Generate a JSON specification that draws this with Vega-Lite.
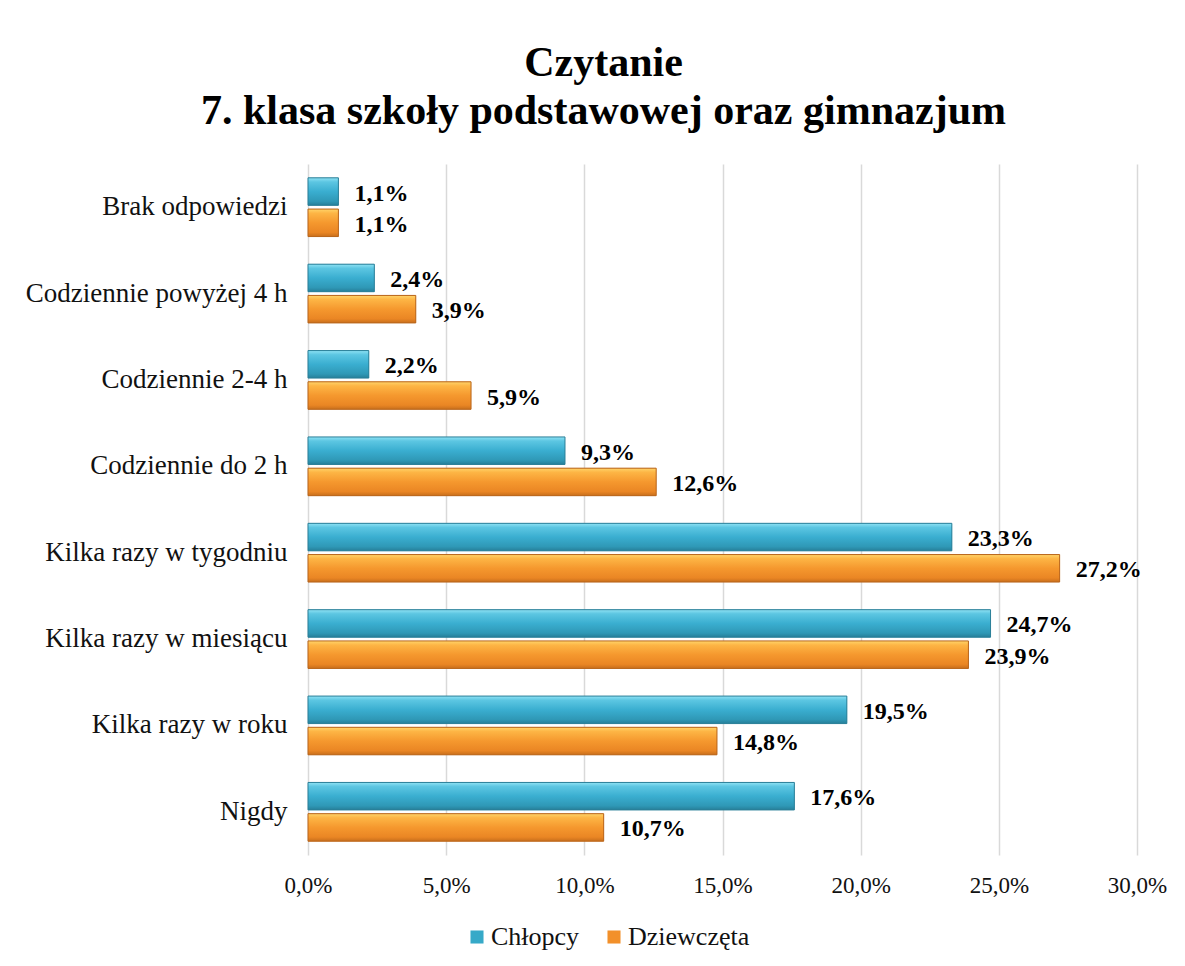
{
  "$schema": "https://vega.github.io/schema/vega-lite/v6.json",
  "autosize": {"type": "none"},
  "width": 829,
  "height": 691,
  "padding": {"left": 308, "top": 164, "right": 48, "bottom": 111},
  "background": "white",
  "title": {
    "text": ["Czytanie", "7. klasa szkoły podstawowej oraz gimnazjum"],
    "font": "Liberation Serif",
    "fontSize": 42,
    "fontWeight": "bold",
    "color": "#000000",
    "anchor": "middle",
    "frame": "group",
    "dx": -119,
    "lineHeight": 48,
    "offset": 31
  },
  "data": {
    "values": [
      {"kategoria": "Brak odpowiedzi", "grupa": "Chłopcy", "wartosc": 1.1},
      {"kategoria": "Brak odpowiedzi", "grupa": "Dziewczęta", "wartosc": 1.1},
      {"kategoria": "Codziennie powyżej 4 h", "grupa": "Chłopcy", "wartosc": 2.4},
      {"kategoria": "Codziennie powyżej 4 h", "grupa": "Dziewczęta", "wartosc": 3.9},
      {"kategoria": "Codziennie 2-4 h", "grupa": "Chłopcy", "wartosc": 2.2},
      {"kategoria": "Codziennie 2-4 h", "grupa": "Dziewczęta", "wartosc": 5.9},
      {"kategoria": "Codziennie do 2 h", "grupa": "Chłopcy", "wartosc": 9.3},
      {"kategoria": "Codziennie do 2 h", "grupa": "Dziewczęta", "wartosc": 12.6},
      {"kategoria": "Kilka razy w tygodniu", "grupa": "Chłopcy", "wartosc": 23.3},
      {"kategoria": "Kilka razy w tygodniu", "grupa": "Dziewczęta", "wartosc": 27.2},
      {"kategoria": "Kilka razy w miesiącu", "grupa": "Chłopcy", "wartosc": 24.7},
      {"kategoria": "Kilka razy w miesiącu", "grupa": "Dziewczęta", "wartosc": 23.9},
      {"kategoria": "Kilka razy w roku", "grupa": "Chłopcy", "wartosc": 19.5},
      {"kategoria": "Kilka razy w roku", "grupa": "Dziewczęta", "wartosc": 14.8},
      {"kategoria": "Nigdy", "grupa": "Chłopcy", "wartosc": 17.6},
      {"kategoria": "Nigdy", "grupa": "Dziewczęta", "wartosc": 10.7}
    ]
  },
  "encoding": {
    "y": {
      "field": "kategoria",
      "type": "nominal",
      "sort": null,
      "title": null,
      "scale": {"paddingInner": 0.32, "paddingOuter": 0.16},
      "axis": {
        "domain": false,
        "ticks": false,
        "labelFont": "Liberation Serif",
        "labelFontSize": 27,
        "labelColor": "#111111",
        "labelPadding": 21,
        "labelLimit": 400
      }
    },
    "yOffset": {
      "field": "grupa",
      "type": "nominal",
      "sort": ["Chłopcy", "Dziewczęta"],
      "scale": {"paddingInner": 0.12}
    },
    "x": {
      "field": "wartosc",
      "type": "quantitative",
      "title": null,
      "scale": {"domain": [0, 30], "nice": false},
      "axis": {
        "values": [0, 5, 10, 15, 20, 25, 30],
        "labelExpr": "replace(format(datum.value, '.1f'), '.', ',') + '%'",
        "labelFlush": false,
        "labelOverlap": false,
        "domain": false,
        "ticks": false,
        "grid": true,
        "gridColor": "#d9d9d9",
        "gridWidth": 1.5,
        "labelFont": "Liberation Serif",
        "labelFontSize": 23,
        "labelColor": "#111111",
        "labelPadding": 19
      }
    }
  },
  "layer": [
    {
      "mark": {"type": "bar"},
      "encoding": {
        "color": {
          "field": "grupa",
          "type": "nominal",
          "sort": ["Chłopcy", "Dziewczęta"],
          "scale": {"domain": ["Chłopcy", "Dziewczęta"], "range": ["#36a9c8", "#f2902a"]},
          "legend": {
            "title": null,
            "orient": "none",
            "direction": "horizontal",
            "legendX": 156,
            "legendY": 760,
            "symbolType": "square",
            "symbolSize": 170,
            "symbolStrokeWidth": 0,
            "labelFont": "Liberation Serif",
            "labelFontSize": 26,
            "labelColor": "#111111",
            "columnPadding": 21,
            "labelOffset": 1
          }
        }
      }
    },
    {
      "transform": [{"filter": "datum.grupa == 'Chłopcy'"}],
      "mark": {
        "type": "bar",
        "stroke": "#2b7f98",
        "strokeWidth": 1,
        "fill": {
          "gradient": "linear",
          "x1": 0, "y1": 0, "x2": 0, "y2": 1,
          "stops": [
            {"offset": 0, "color": "#8fe2f4"},
            {"offset": 0.15, "color": "#5cc6e2"},
            {"offset": 0.5, "color": "#3aaed0"},
            {"offset": 0.85, "color": "#2f98b6"},
            {"offset": 1, "color": "#267f99"}
          ]
        }
      }
    },
    {
      "transform": [{"filter": "datum.grupa == 'Dziewczęta'"}],
      "mark": {
        "type": "bar",
        "stroke": "#b8651c",
        "strokeWidth": 1,
        "fill": {
          "gradient": "linear",
          "x1": 0, "y1": 0, "x2": 0, "y2": 1,
          "stops": [
            {"offset": 0, "color": "#ffd46a"},
            {"offset": 0.15, "color": "#fdb545"},
            {"offset": 0.5, "color": "#f5982e"},
            {"offset": 0.85, "color": "#ea8624"},
            {"offset": 1, "color": "#c86f1c"}
          ]
        }
      }
    },
    {
      "mark": {
        "type": "text",
        "align": "left",
        "baseline": "middle",
        "dx": 16,
        "dy": 2,
        "font": "Liberation Serif",
        "fontSize": 24,
        "fontWeight": "bold",
        "color": "#000000"
      },
      "encoding": {
        "text": {"field": "label", "type": "nominal"}
      },
      "transform": [
        {"calculate": "replace(format(datum.wartosc, '.1f'), '.', ',') + '%'", "as": "label"}
      ]
    }
  ],
  "config": {
    "view": {"stroke": null}
  }
}
